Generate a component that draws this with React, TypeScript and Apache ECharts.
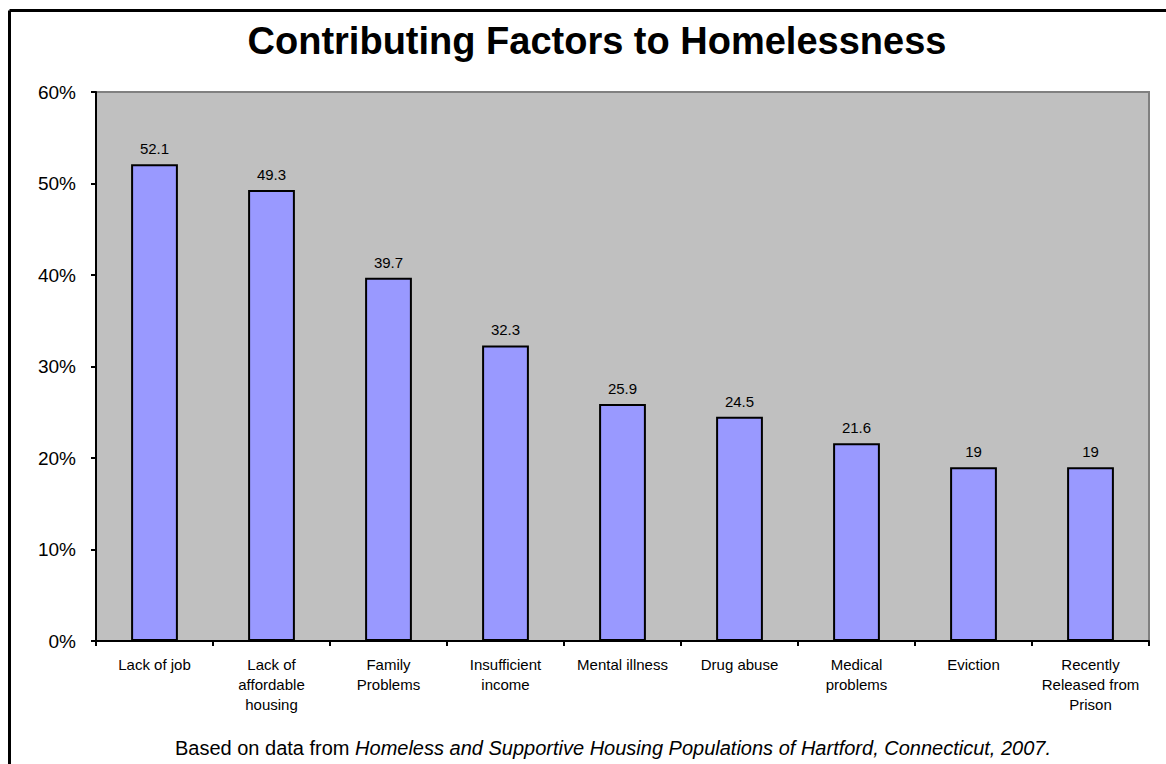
import React, { useEffect, useRef } from "react";
import * as echarts from "echarts";

const categories = [
  "Lack of job",
  "Lack of\naffordable\nhousing",
  "Family\nProblems",
  "Insufficient\nincome",
  "Mental illness",
  "Drug abuse",
  "Medical\nproblems",
  "Eviction",
  "Recently\nReleased from\nPrison",
];
const values = [52.1, 49.3, 39.7, 32.3, 25.9, 24.5, 21.6, 19, 19];
const yTicks = { min: 0, max: 60, interval: 10 };
const titleText = "Contributing Factors to Homelessness";
const sourcePrefix = "Based on data from ";
const sourceItalic = "Homeless and Supportive Housing Populations of Hartford, Connecticut, 2007.";

export default function App() {
  const ref = useRef<HTMLDivElement>(null);
  useEffect(() => {
    if (!ref.current) return;
    const chart = echarts.init(ref.current, undefined, { renderer: "svg" });
    const font = "'Liberation Sans', Arial, sans-serif";
    chart.setOption({
      animation: false,
      backgroundColor: "#ffffff",
      textStyle: { fontFamily: font },
      title: [
        {
          text: titleText,
          left: 592,
          textAlign: "center",
          top: 17,
          textStyle: { fontSize: 38, fontWeight: "bold", color: "#000", fontFamily: font },
        },
        {
          text: `{a|${sourcePrefix}}{b|${sourceItalic}}`,
          left: 608,
          textAlign: "center",
          top: 733,
          textStyle: {
            fontFamily: font,
            fontWeight: "normal",
            rich: {
              a: { fontSize: 20, color: "#000", fontWeight: "normal", fontFamily: font },
              b: { fontSize: 20, color: "#000", fontWeight: "normal", fontStyle: "italic", fontFamily: font },
            },
          },
        },
      ],
      grid: {
        left: 96,
        right: 17,
        top: 92,
        bottom: 123,
        show: true,
        backgroundColor: "#c0c0c0",
        borderColor: "#808080",
        borderWidth: 2,
      },
      xAxis: {
        type: "category",
        data: categories,
        axisLine: { show: true, lineStyle: { color: "#000", width: 2 } },
        axisTick: { show: true, length: 5, alignWithLabel: false, lineStyle: { color: "#000", width: 2 } },
        axisLabel: {
          interval: 0,
          color: "#000",
          fontSize: 15,
          lineHeight: 20,
          margin: 13,
          fontFamily: font,
        },
      },
      yAxis: {
        type: "value",
        min: yTicks.min,
        max: yTicks.max,
        interval: yTicks.interval,
        axisLine: { show: true, lineStyle: { color: "#000", width: 2 } },
        axisTick: { show: true, length: 5, lineStyle: { color: "#000", width: 2 } },
        splitLine: { show: false },
        axisLabel: {
          formatter: "{value}%",
          color: "#000",
          fontSize: 19,
          margin: 20,
          fontFamily: font,
        },
      },
      series: [
        {
          type: "bar",
          data: values,
          barWidth: "40%",
          itemStyle: { color: "#9999ff", borderColor: "#000", borderWidth: 2 },
          label: {
            show: true,
            position: "top",
            distance: 8,
            color: "#000",
            fontSize: 15,
            fontFamily: font,
          },
        },
      ],
      graphic: [
        { type: "line", shape: { x1: 9.5, y1: 10.5, x2: 1166, y2: 10.5 }, style: { stroke: "#000", lineWidth: 3 } },
        { type: "line", shape: { x1: 9.5, y1: 10.5, x2: 9.5, y2: 764 }, style: { stroke: "#000", lineWidth: 3 } },
      ],
    });
    return () => chart.dispose();
  }, []);
  return (
    <div
      ref={ref}
      style={{ position: "fixed", left: 0, top: 0, width: 1166, height: 764 }}
    />
  );
}
